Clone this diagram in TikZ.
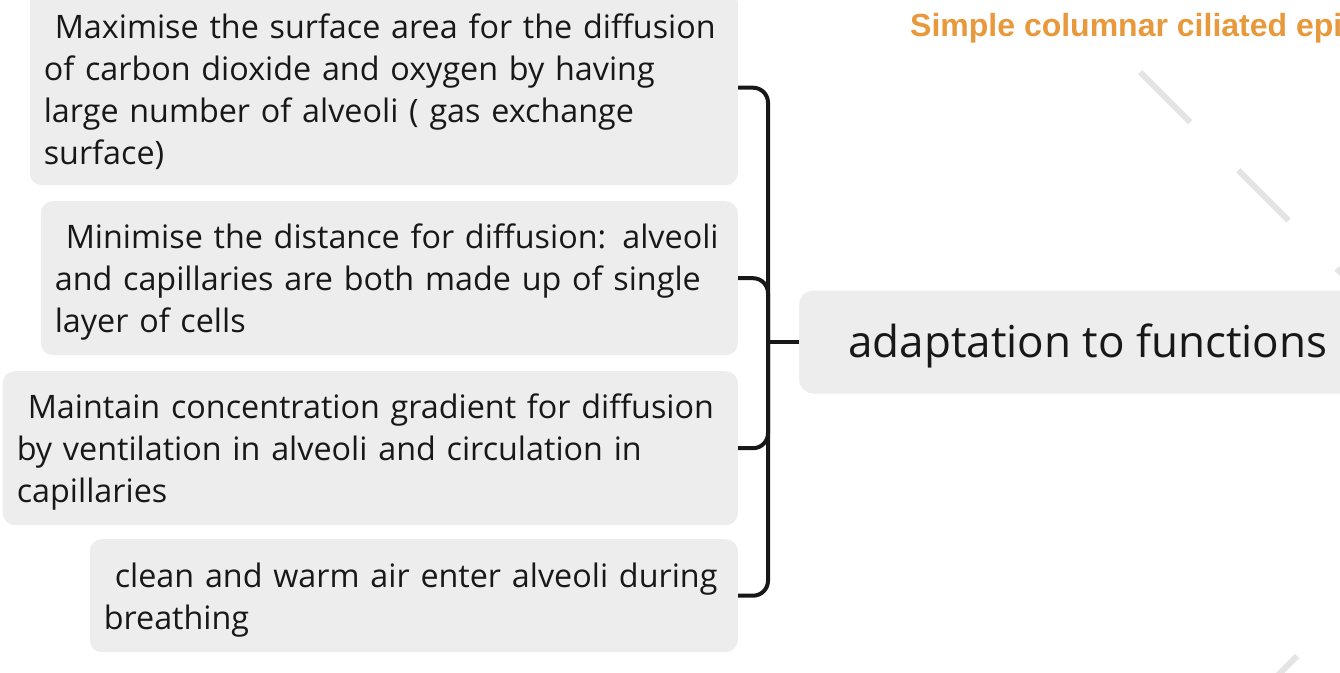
\documentclass[tikz,border=0pt]{standalone}
\usepackage{fontspec}
\setmainfont{Open Sans}
\newfontfamily\titlefont{Liberation Sans}
\usepackage{tikz}
\usetikzlibrary{calc}
\definecolor{boxgray}{RGB}{237,237,237}
\definecolor{inkblack}{RGB}{24,24,24}
\definecolor{titleorange}{RGB}{232,153,60}
\definecolor{dashgray}{RGB}{228,228,228}
\newcommand{\leaftail}{\endgraf\vspace*{-8pt}}
\tikzstyle{leaf}=[fill=boxgray, rounded corners=12pt, anchor=north east, align=left, inner xsep=14pt, inner ysep=0pt, text=inkblack, font=\fontsize{32.3}{42}\selectfont, execute at end node=\leaftail]
\tikzstyle{topic}=[fill=boxgray, rounded corners=14pt, anchor=west, inner xsep=49pt, minimum height=103pt, text height=34pt, text depth=4pt, text=inkblack, font=\fontsize{44}{48}\selectfont]
\tikzstyle{bracket}=[draw=inkblack, line width=4pt, rounded corners=15pt]
\tikzstyle{link}=[draw=dashgray, line width=6pt, dash pattern=on 71pt off 68pt]
\tikzstyle{title}=[anchor=base west, inner sep=0pt, text=titleorange, font=\titlefont\bfseries\fontsize{32}{36}\selectfont]

\begin{document}
\begin{tikzpicture}[x=1pt, y=-1pt]

    \useasboundingbox (0,0) rectangle (1340,672);
    \clip (0,0) rectangle (1340,672);

    \node[leaf, text width=680pt, minimum height=195pt] (surface) at (738,-10)
        {\hspace*{11pt}Maximise the surface area for the diffusion\\of carbon dioxide and oxygen by having\\large number of alveoli ( gas exchange\\surface)};
    \node[leaf, text width=669pt, minimum height=154pt] (distance) at (738,201)
        {\hspace*{11pt}Minimise the distance for diffusion: alveoli\\and capillaries are both made up of single\\layer of cells};
    \node[leaf, text width=707pt, minimum height=154pt] (gradient) at (738,371)
        {\hspace*{11pt}Maintain concentration gradient for diffusion\\by ventilation in alveoli and circulation in\\capillaries};
    \node[leaf, text width=620pt, minimum height=113pt] (air) at (738,539)
        {\hspace*{11pt}clean and warm air enter alveoli during\\breathing};

    \node[topic] (functions) at (799,342) {adaptation to functions};

    \coordinate (fork) at (768,342);
    \foreach \leafname in {surface,distance,gradient,air}
        \draw[bracket] (\leafname.east) -| (fork);
    \draw[bracket] (fork) -- (functions.west);

    \node[title] (epithelium) at (910,36) {Simple columnar ciliated epithelium};

    \coordinate (upperlink) at (1140,72);
    \coordinate (upperend) at (1440,372);
    \draw[link] (upperlink) -- (upperend);
    \coordinate (lowerlink) at (1297,656);
    \coordinate (lowerend) at (1240,713);
    \draw[link] (lowerlink) -- (lowerend);

\end{tikzpicture}
\end{document}
